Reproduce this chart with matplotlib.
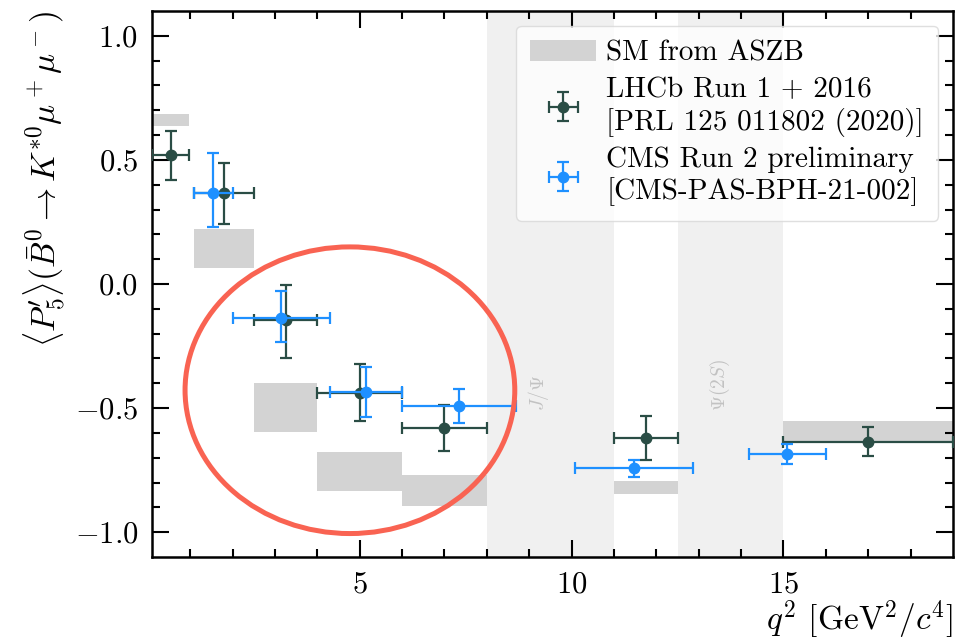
import numpy as np
import matplotlib
matplotlib.use("Agg")
import matplotlib.pyplot as plt
from matplotlib.patches import Ellipse

plt.rcParams['font.family'] = 'serif'
plt.rcParams['font.serif'] = ['cmr10']
plt.rcParams['mathtext.fontset'] = 'cm'
plt.rcParams['axes.formatter.use_mathtext'] = True

# SM prediction (ASZB), bins in q^2
sm_lo = [0.1, 1.1, 2.5, 4.0, 6.0, 11.0, 15.0]
sm_hi = [0.98, 2.5, 4.0, 6.0, 8.0, 12.5, 19.0]
sm_low = [0.636, 0.063, -0.598, -0.834, -0.894, -0.846, -0.632]
sm_high = [0.683, 0.221, -0.398, -0.676, -0.770, -0.794, -0.551]

# LHCb Run 1 + 2016
lhcb_x = [0.54, 1.8, 3.25, 5.0, 7.0, 11.75, 17.0]
lhcb_xlo = [0.1, 1.1, 2.5, 4.0, 6.0, 11.0, 15.0]
lhcb_xhi = [0.98, 2.5, 4.0, 6.0, 8.0, 12.5, 19.0]
lhcb_y = [0.519, 0.365, -0.147, -0.438, -0.582, -0.620, -0.636]
lhcb_up = [0.099, 0.122, 0.144, 0.117, 0.096, 0.089, 0.058]
lhcb_dn = [0.099, 0.124, 0.150, 0.115, 0.091, 0.090, 0.056]

# CMS Run 2 preliminary
cms_x = [1.55, 3.15, 5.15, 7.34, 11.475, 15.09]
cms_xlo = [1.1, 2.0, 4.3, 6.0, 10.09, 14.18]
cms_xhi = [2.0, 4.3, 6.0, 8.68, 12.86, 16.0]
cms_y = [0.365, -0.138, -0.435, -0.491, -0.743, -0.685]
cms_up = [0.164, 0.111, 0.100, 0.069, 0.033, 0.042]
cms_dn = [0.137, 0.094, 0.100, 0.071, 0.033, 0.041]

# charmonium vetoes
veto_lo = [8.0, 12.5]
veto_hi = [11.0, 15.0]
veto_names = [r'$J/\Psi$', r'$\Psi(2S)$']
veto_text_x = [9.22, 13.5]

lhcb_col = '#2a4d45'
cms_col = '#1e90ff'

fig = plt.figure(figsize=(9.55, 6.42), dpi=100)
ax = fig.add_axes([152 / 955, 1 - 557 / 642, 801 / 955, 546 / 642])

for lo, hi, name, tx in zip(veto_lo, veto_hi, veto_names, veto_text_x):
    ax.axvspan(lo, hi, color='#f0f0f0', lw=0, zorder=0)
    ax.text(tx, -0.51, name, rotation=90, ha='center', va='bottom',
            color='#c2c2c2', fontsize=14, zorder=1)

sm_lo = np.array(sm_lo)
sm_hi = np.array(sm_hi)
sm_low = np.array(sm_low)
sm_high = np.array(sm_high)
ax.bar(sm_lo, sm_high - sm_low, width=sm_hi - sm_lo, bottom=sm_low,
       align='edge', color='#d3d3d3', lw=0, zorder=1, label='SM from ASZB')

lx = np.array(lhcb_x)
ax.errorbar(lx, lhcb_y,
            xerr=[lx - np.array(lhcb_xlo), np.array(lhcb_xhi) - lx],
            yerr=[lhcb_dn, lhcb_up], fmt='o', color=lhcb_col, ms=7.5,
            elinewidth=1.6, capsize=4.5, capthick=1.6, zorder=3,
            label='LHCb Run 1 + 2016\n[PRL 125 011802 (2020)]')

cx = np.array(cms_x)
ax.errorbar(cx, cms_y,
            xerr=[cx - np.array(cms_xlo), np.array(cms_xhi) - cx],
            yerr=[cms_dn, cms_up], fmt='o', color=cms_col, ms=7.5,
            elinewidth=1.6, capsize=4.5, capthick=1.6, zorder=4,
            label='CMS Run 2 preliminary\n[CMS-PAS-BPH-21-002]')

ax.add_patch(Ellipse((4.77, -0.428), 7.78, 1.155, fill=False,
                     edgecolor='#f96352', lw=3.6, zorder=5))

ax.set_xlim(0.1, 19)
ax.set_ylim(-1.1, 1.1)
ax.set_xticks([5, 10, 15])
ax.set_xticks(np.arange(1, 19), minor=True)
ax.set_yticks([-1.0, -0.5, 0.0, 0.5, 1.0])
ax.set_yticks(np.arange(-1.0, 1.05, 0.1), minor=True)
ax.tick_params(which='both', direction='in', top=True, right=True,
               labelsize=22, width=1.5)
ax.tick_params(which='major', length=12, pad=10)
ax.tick_params(which='minor', length=6)
for s in ax.spines.values():
    s.set_linewidth(1.8)

ax.set_xlabel(r'$q^2$ [GeV$^2/c^4$]', fontsize=24, loc='right', labelpad=0)
ax.set_ylabel(r"$\langle P_5'\rangle(\bar{B}^0 \rightarrow K^{*0}\mu^+\mu^-)$",
              fontsize=24, loc='top')
ax.yaxis.set_label_coords(-0.106, 1.0)

leg = ax.legend(loc='upper right', fontsize=21, handlelength=2.25,
                labelspacing=0.35, borderpad=0.5, handletextpad=0.35,
                fancybox=True, framealpha=0.8, edgecolor='#d8d8d8')

fig.savefig('out.png', dpi=100)
